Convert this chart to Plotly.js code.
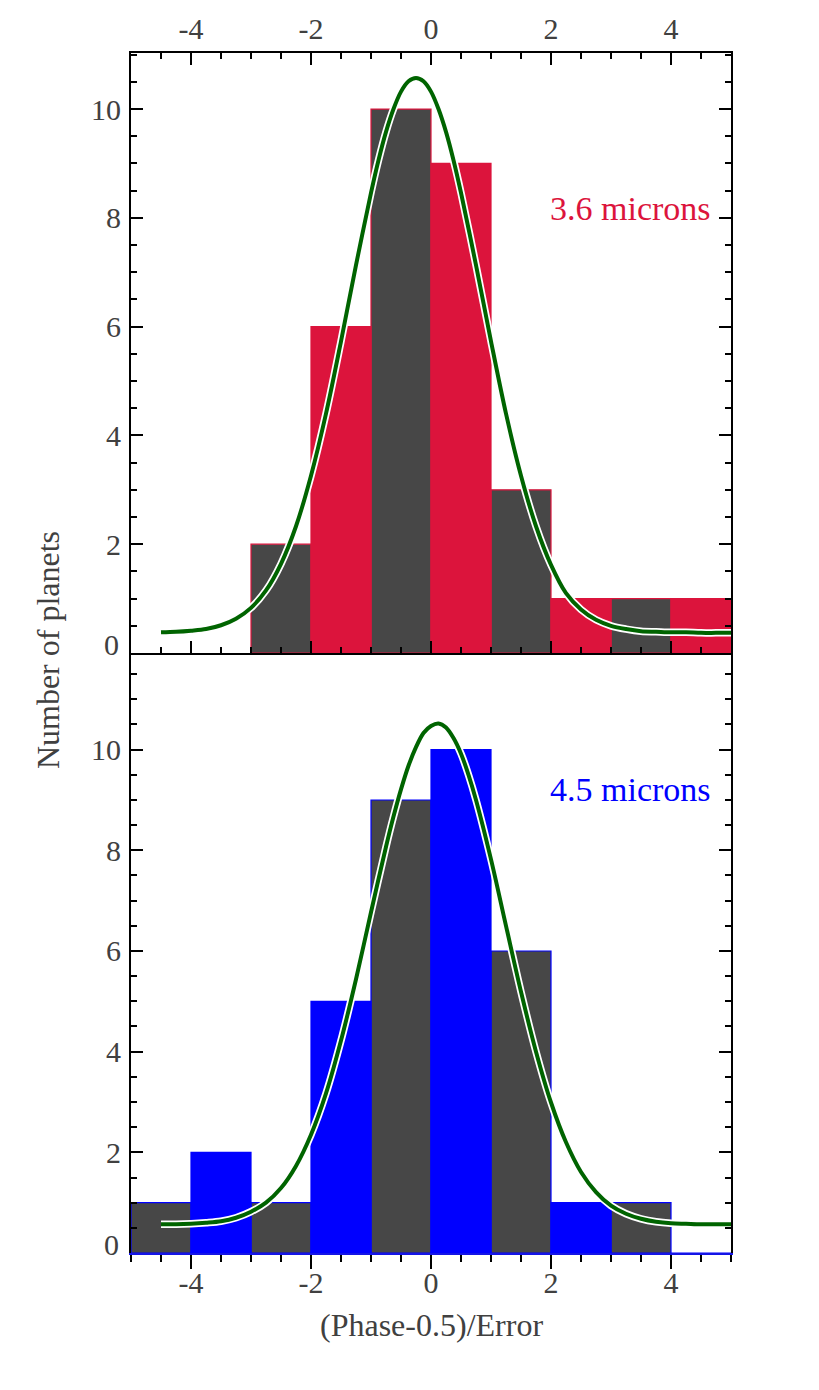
<!DOCTYPE html>
<html>
<head>
<meta charset="utf-8">
<script src="https://cdn.plot.ly/plotly-3.0.1.min.js"></script>
<style>
  html, body { margin: 0; padding: 0; background: #ffffff; }
  #chart { width: 819px; height: 1390px; }
</style>
</head>
<body>
<div id="chart"></div>
<script>
// 3.6 micron panel: counts per bin (width 1), alternating grey / crimson
const band36GreyX = [-2.5, -0.5, 1.5, 3.5];
const band36GreyN = [2, 10, 3, 1];
const band36ColX = [-1.5, 0.5, 2.5, 4.5];
const band36ColN = [6, 9, 1, 1];

// 4.5 micron panel: counts per bin (width 1), alternating grey / blue
const band45GreyX = [-4.5, -2.5, -0.5, 1.5, 3.5];
const band45GreyN = [1, 1, 9, 6, 1];
const band45ColX = [-3.5, -1.5, 0.5, 2.5, 4.5];
const band45ColN = [2, 5, 10, 1, 0];

// Fitted profiles (denser sampling around the peaks)
const fit36X = [-4.5, -4.25, -4.0, -3.75, -3.5, -3.25, -3.0, -2.75, -2.5, -2.25, -2.0, -1.75, -1.5, -1.25,
                -1.0, -0.875, -0.75, -0.625, -0.5, -0.375, -0.25, -0.125, 0.0, 0.125, 0.25, 0.375, 0.5,
                0.75, 1.0, 1.25, 1.5, 1.75, 2.0, 2.25, 2.5, 2.75, 3.0, 3.25, 3.5, 3.75, 4.0, 4.25, 4.5, 4.75, 5.0];
const fit36Y = [0.38, 0.39, 0.41, 0.44, 0.51, 0.63, 0.83, 1.15, 1.64, 2.33, 3.26, 4.40, 5.73, 7.13,
                8.46, 9.06, 9.58, 10.00, 10.32, 10.51, 10.57, 10.51, 10.32, 10.00, 9.58, 9.06, 8.46,
                7.13, 5.73, 4.40, 3.26, 2.33, 1.62, 1.10, 0.80, 0.61, 0.50, 0.44, 0.40, 0.39, 0.38, 0.38, 0.37, 0.37, 0.37];

const fit45X = [-4.5, -4.25, -4.0, -3.75, -3.5, -3.25, -3.0, -2.75, -2.5, -2.25, -2.0, -1.75, -1.5, -1.25, -1.0,
                -0.75, -0.625, -0.5, -0.375, -0.25, -0.125, 0.0, 0.125, 0.25, 0.375, 0.5, 0.625, 0.75,
                1.0, 1.25, 1.5, 1.75, 2.0, 2.25, 2.5, 2.75, 3.0, 3.25, 3.5, 3.75, 4.0, 4.25, 4.5, 4.75, 5.0];
const fit45Y = [0.57, 0.57, 0.58, 0.60, 0.63, 0.70, 0.82, 1.00, 1.29, 1.73, 2.35, 3.17, 4.22, 5.44, 6.77,
                8.07, 8.67, 9.21, 9.68, 10.05, 10.33, 10.47, 10.52, 10.44, 10.23, 9.92, 9.50, 9.00,
                7.82, 6.50, 5.19, 4.00, 2.99, 2.20, 1.61, 1.21, 0.94, 0.78, 0.68, 0.62, 0.59, 0.58, 0.57, 0.57, 0.57];

const yTickVals = [2, 4, 6, 8, 10];
const xTickVals = [-4, -2, 0, 2, 4];
const xTickText = ['-4', '-2', '0', '2', '4'];

const GREY = '#474747';
const CRIMSON = '#dc143c';
const BLUE = '#0000ff';
const FIT_GREEN = '#006400';
const TXT = '#404040';
const FONT = 'Liberation Serif, Times New Roman, serif';

function barTrace(x, y, fill, edge, xa, ya) {
  return {
    type: 'bar', x: x, y: y, width: 1, xaxis: xa, yaxis: ya,
    marker: { color: fill, line: { color: edge, width: 1.2 } },
    hoverinfo: 'skip', showlegend: false
  };
}
function fitTraces(x, y, xa, ya) {
  return [
    { type: 'scatter', mode: 'lines', x: x, y: y, xaxis: xa, yaxis: ya,
      line: { color: '#ffffff', width: 7.5, shape: 'spline', smoothing: 0.9 }, hoverinfo: 'skip', showlegend: false },
    { type: 'scatter', mode: 'lines', x: x, y: y, xaxis: xa, yaxis: ya,
      line: { color: FIT_GREEN, width: 4, shape: 'spline', smoothing: 0.9 }, hoverinfo: 'skip', showlegend: false }
  ];
}

const data = [
  barTrace(band36GreyX, band36GreyN, GREY, CRIMSON, 'x', 'y'),
  barTrace(band36ColX, band36ColN, CRIMSON, CRIMSON, 'x', 'y'),
  ...fitTraces(fit36X, fit36Y, 'x', 'y'),
  barTrace(band45GreyX, band45GreyN, GREY, BLUE, 'x2', 'y2'),
  barTrace(band45ColX, band45ColN, BLUE, BLUE, 'x2', 'y2'),
  ...fitTraces(fit45X, fit45Y, 'x2', 'y2')
];

const tickFont = { family: FONT, size: 30, color: TXT };
const minorIn = { dtick: 0.5, ticks: 'inside', ticklen: 6, tickwidth: 2, tickcolor: '#000' };

const commonY = {
  tickvals: yTickVals, ticks: 'inside', ticklen: 12, tickwidth: 2, tickcolor: '#000',
  showline: true, linewidth: 2, linecolor: '#000', mirror: 'allticks',
  showgrid: false, zeroline: false, tickfont: tickFont, ticklabelstandoff: 2,
  minor: minorIn
};

const layout = {
  width: 819, height: 1390,
  margin: { l: 131, r: 88, t: 53, b: 136.5 },
  paper_bgcolor: '#ffffff', plot_bgcolor: '#ffffff',
  barmode: 'overlay', bargap: 0,
  showlegend: false,
  xaxis: {
    anchor: 'y', side: 'top', range: [-5, 5], tickvals: xTickVals, ticktext: xTickText,
    ticks: 'inside', ticklen: 12, tickwidth: 2, tickcolor: '#000',
    showline: true, linewidth: 2, linecolor: '#000', mirror: 'allticks',
    showgrid: false, zeroline: false, tickfont: tickFont,
    minor: minorIn
  },
  yaxis: Object.assign({ domain: [0.5, 1], anchor: 'x', range: [0, 11.03] }, commonY),
  xaxis2: {
    anchor: 'y2', side: 'bottom', range: [-5, 5], tickvals: xTickVals, ticktext: xTickText,
    ticks: 'outside', ticklen: 14, tickwidth: 2, tickcolor: '#000',
    showline: true, linewidth: 2, linecolor: '#1414e6', mirror: false,
    showgrid: false, zeroline: false, tickfont: tickFont, ticklabelstandoff: -12,
    minor: { dtick: 0.5, ticks: 'outside', ticklen: 7, tickwidth: 2, tickcolor: '#000' }
  },
  // inward ticks along the top edge of the lower panel
  xaxis3: {
    overlaying: 'x2', anchor: 'y2', side: 'top', range: [-5, 5], tickvals: xTickVals,
    ticks: 'inside', ticklen: 12, tickwidth: 2, tickcolor: '#000',
    showline: true, linewidth: 2, linecolor: '#000',
    showticklabels: false, showgrid: false, zeroline: false,
    minor: minorIn
  },
  yaxis2: Object.assign({ domain: [0, 0.5], anchor: 'x2', range: [0, 11.92] }, commonY),
  annotations: [
    { xref: 'x', yref: 'y', x: 4.7, y: 8.18, text: '3.6 microns', showarrow: false,
      xanchor: 'right', yanchor: 'middle', font: { family: FONT, size: 34, color: CRIMSON } },
    { xref: 'x2', yref: 'y2', x: 4.7, y: 9.2, text: '4.5 microns', showarrow: false,
      xanchor: 'right', yanchor: 'middle', font: { family: FONT, size: 34, color: BLUE } },
    { xref: 'paper', yref: 'y', x: -0.017, y: 0, yshift: 9, text: '0', showarrow: false,
      xanchor: 'right', yanchor: 'middle', font: tickFont },
    { xref: 'paper', yref: 'y2', x: -0.017, y: 0, yshift: 9, text: '0', showarrow: false,
      xanchor: 'right', yanchor: 'middle', font: tickFont },
    { xref: 'paper', yref: 'paper', x: -0.138, y: 0.5026, text: 'Number of planets', showarrow: false,
      textangle: -90, xanchor: 'center', yanchor: 'middle', font: { family: FONT, size: 32, color: TXT } },
    { xref: 'paper', yref: 'paper', x: 0.5, y: -0.06, text: '(Phase-0.5)/Error', showarrow: false,
      xanchor: 'center', yanchor: 'middle', font: { family: FONT, size: 32, color: TXT } }
  ]
};

Plotly.newPlot('chart', data, layout, { displayModeBar: false, staticPlot: true });
</script>
</body>
</html>
